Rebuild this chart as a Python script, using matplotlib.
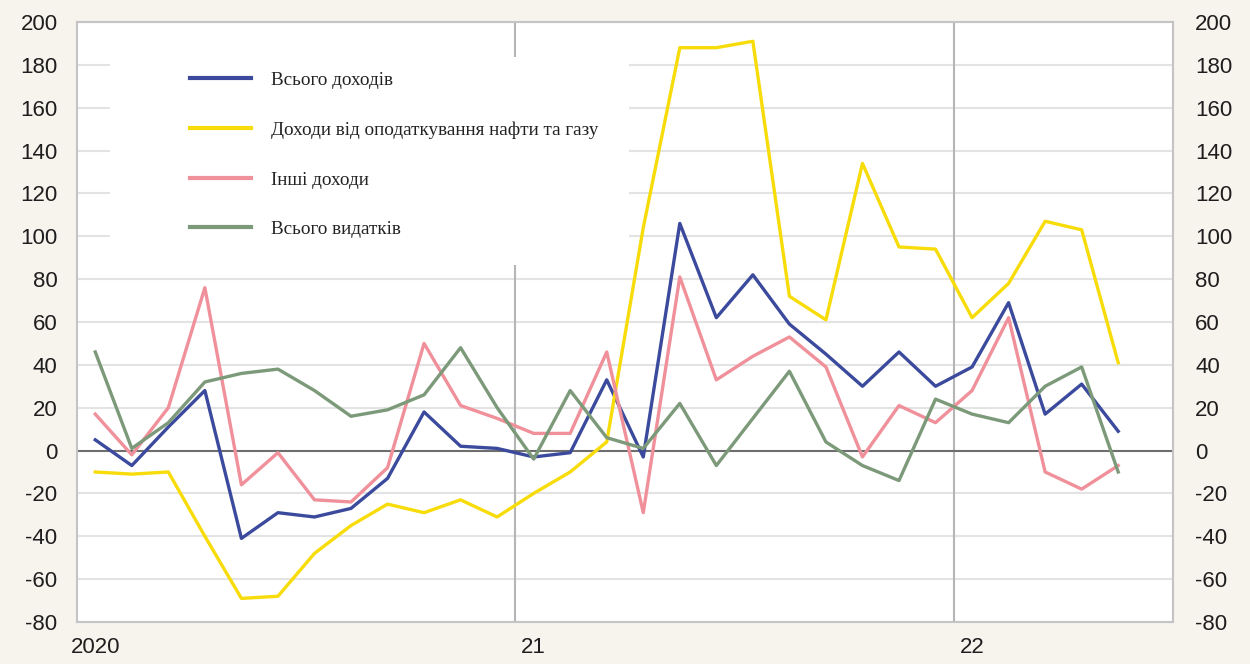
import matplotlib
matplotlib.use("Agg")
import matplotlib.pyplot as plt
from matplotlib.patches import Rectangle
import numpy as np

plt.rcParams['axes.unicode_minus'] = False

# Monthly data, Jan 2020 - May 2022 (% y/y)
months = np.arange(29)
total_revenue = [5, -7, 11, 28, -41, -29, -31, -27, -13, 18, 2, 1,
                 -3, -1, 33, -3, 106, 62, 82, 59, 45, 30, 46, 30,
                 39, 69, 17, 31, 9]
oil_gas_revenue = [-10, -11, -10, -40, -69, -68, -48, -35, -25, -29, -23, -31,
                   -20, -10, 4, 104, 188, 188, 191, 72, 61, 134, 95, 94,
                   62, 78, 107, 103, 41]
other_revenue = [17, -2, 20, 76, -16, -1, -23, -24, -8, 50, 21, 15,
                 8, 8, 46, -29, 81, 33, 44, 53, 39, -3, 21, 13,
                 28, 62, -10, -18, -7]
total_spending = [46, 1, 13, 32, 36, 38, 28, 16, 19, 26, 48, 20,
                  -4, 28, 6, 1, 22, -7, 15, 37, 4, -7, -14, 24,
                  17, 13, 30, 39, -10]

labels = ['Всього доходів', 'Доходи від оподаткування нафти та газу',
          'Інші доходи', 'Всього видатків']
colors = ['#3b4a9c', '#f7dc0a', '#f0909a', '#7c9a7a']
year_ticks = [0, 12, 24]
year_labels = ['2020', '21', '22']
y_ticks = np.arange(-80, 201, 20)

bg = '#f7f3ed'
fig = plt.figure(figsize=(12.5, 6.64), dpi=100, facecolor=bg)
ax = fig.add_axes([0.0616, 0.0633, 0.8768, 0.9036])
ax.set_facecolor('white')

# grid
for y in y_ticks:
    if y != 0:
        ax.axhline(y, color='#e3e3e3', lw=1.5, zorder=0)
for xv in [11.5, 23.5]:
    ax.axvline(xv, color='#b5b5b5', lw=1.5, zorder=0.5)
ax.axhline(0, color='#6e6e6e', lw=1.5, zorder=1)

# white area behind the legend
ax.add_patch(Rectangle((0.030, 0.595), 0.474, 0.347, transform=ax.transAxes,
                       facecolor='white', edgecolor='none', zorder=1.5))

series = [total_revenue, oil_gas_revenue, other_revenue, total_spending]
lines = {}
for i in [1, 2, 3, 0]:
    ln, = ax.plot(months, series[i], color=colors[i], lw=2.4, label=labels[i], zorder=2 + i * 0.1)
    lines[i] = ln

ax.set_xlim(-0.5, 29.5)
ax.set_ylim(-80, 200)
ax.set_yticks(y_ticks)
ax.set_xticks(year_ticks)
ax.set_xticklabels(year_labels)
ax.tick_params(axis='both', length=0, labelsize=16, labelcolor='#1e1e1e')
ax.tick_params(axis='y', pad=14)
ax.tick_params(axis='x', pad=11)
for lbl in ax.get_xticklabels() + ax.get_yticklabels():
    lbl.set_family('Liberation Sans')
for s in ax.spines.values():
    s.set_color('#c4c4c4')
    s.set_linewidth(1.5)

ax2 = ax.twinx()
ax2.set_ylim(-80, 200)
ax2.set_yticks(y_ticks)
ax2.tick_params(axis='y', length=0, labelsize=16, pad=16, labelcolor='#1e1e1e')
for lbl in ax2.get_yticklabels():
    lbl.set_family('Liberation Sans')
for s in ax2.spines.values():
    s.set_visible(False)

leg = ax2.legend([lines[i] for i in range(4)], labels, loc='upper left',
                 bbox_to_anchor=(0.103, 0.917), frameon=False,
                 prop={'family': 'Liberation Serif', 'size': 13.8},
                 handlelength=3.2, handletextpad=1.05, labelspacing=1.68,
                 borderpad=0, borderaxespad=0)
for h in leg.get_lines():
    h.set_linewidth(3)
for t in leg.get_texts():
    t.set_color('#222222')

fig.savefig('out.png', dpi=100, facecolor=bg)
